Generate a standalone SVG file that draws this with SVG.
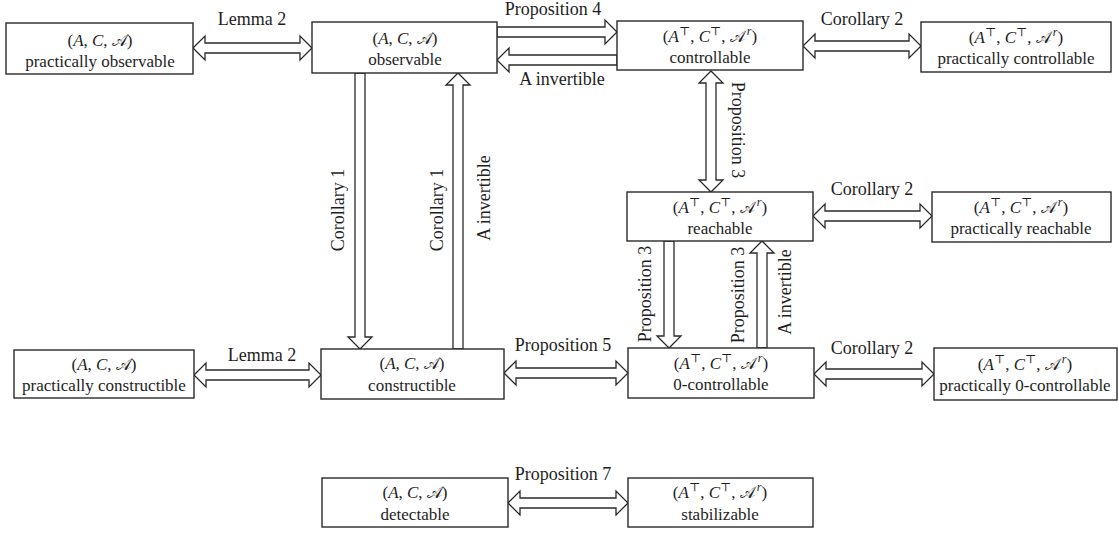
<svg xmlns="http://www.w3.org/2000/svg" width="1119" height="533" viewBox="0 0 1119 533">
<style>
.box{fill:#fff;stroke:#2a2a2a;stroke-width:1.4}
.arr{fill:#fff;stroke:#2a2a2a;stroke-width:1.3;stroke-linejoin:miter}
.t{font-family:"Liberation Serif","DejaVu Serif",serif;font-size:17px;fill:#1e1e1e;text-anchor:middle}
.lbl{font-family:"Liberation Serif","DejaVu Serif",serif;font-size:18px;fill:#1e1e1e;text-anchor:middle;dominant-baseline:central}
.i{font-style:italic}
.cal{font-family:"DejaVu Sans","Noto Sans",sans-serif;font-style:normal;font-size:16px}
.sup{font-size:12px}
</style>
<rect width="1119" height="533" fill="#fff"/>

<g id="connectors">
  <polygon class="arr" points="193,48 205,36 205,43 300,43 300,36 312,48 300,60 300,53 205,53 205,60"/>
  <text class="lbl" x="252" y="19">Lemma 2</text>
  <polygon class="arr" points="497,27 605,27 605,20 617,32 605,44 605,37 497,37"/>
  <text class="lbl" x="553" y="9">Proposition 4</text>
  <polygon class="arr" points="617,55 509,55 509,48 497,60 509,72 509,65 617,65"/>
  <text class="lbl" x="562" y="79">A invertible</text>
  <polygon class="arr" points="803,46 815,34 815,41 909,41 909,34 921,46 909,58 909,51 815,51 815,58"/>
  <text class="lbl" x="862" y="19">Corollary 2</text>
  <polygon class="arr" points="355,73 355,337 348,337 360,349 372,337 365,337 365,73"/>
  <text class="lbl" transform="rotate(-90 338 210)" x="338" y="210">Corollary 1</text>
  <polygon class="arr" points="453,349 453,85 446,85 458,73 470,85 463,85 463,349"/>
  <text class="lbl" transform="rotate(-90 437 210)" x="437" y="210">Corollary 1</text>
  <text class="lbl" transform="rotate(-90 484 198)" x="484" y="198">A invertible</text>
  <polygon class="arr" points="711,71 723,83 716,83 716,180 723,180 711,192 699,180 706,180 706,83 699,83"/>
  <text class="lbl" transform="rotate(90 738 130)" x="738" y="130">Proposition 3</text>
  <polygon class="arr" points="813,216 825,204 825,211 920,211 920,204 932,216 920,228 920,221 825,221 825,228"/>
  <text class="lbl" x="872" y="189">Corollary 2</text>
  <polygon class="arr" points="664,241 664,336 657,336 669,348 681,336 674,336 674,241"/>
  <text class="lbl" transform="rotate(-90 645 294)" x="645" y="294">Proposition 3</text>
  <polygon class="arr" points="757,348 757,253 750,253 762,241 774,253 767,253 767,348"/>
  <text class="lbl" transform="rotate(-90 738 295)" x="738" y="295">Proposition 3</text>
  <text class="lbl" transform="rotate(-90 785 292)" x="785" y="292">A invertible</text>
  <polygon class="arr" points="194,375 206,363 206,370 309,370 309,363 321,375 309,387 309,380 206,380 206,387"/>
  <text class="lbl" x="262" y="355">Lemma 2</text>
  <polygon class="arr" points="504,373 516,361 516,368 616,368 616,361 628,373 616,385 616,378 516,378 516,385"/>
  <text class="lbl" x="563" y="345">Proposition 5</text>
  <polygon class="arr" points="814,374 826,362 826,369 922,369 922,362 934,374 922,386 922,379 826,379 826,386"/>
  <text class="lbl" x="872" y="348">Corollary 2</text>
  <polygon class="arr" points="508,503 520,491 520,498 616,498 616,491 628,503 616,515 616,508 520,508 520,515"/>
  <text class="lbl" x="563" y="474">Proposition 7</text>
</g>

<g id="n1">
  <rect class="box" x="6" y="23" width="187" height="51"/>
  <text class="t" x="100" y="46">(<tspan class="i">A</tspan>, <tspan class="i">C</tspan>, <tspan class="cal">𝒜</tspan>)</text>
  <text class="t" x="100" y="67">practically observable</text>
</g>
<g id="n2">
  <rect class="box" x="312" y="22" width="185" height="51"/>
  <text class="t" x="405" y="44">(<tspan class="i">A</tspan>, <tspan class="i">C</tspan>, <tspan class="cal">𝒜</tspan>)</text>
  <text class="t" x="405" y="65">observable</text>
</g>
<g id="n3">
  <rect class="box" x="617" y="21" width="186" height="49"/>
  <text class="t" x="710" y="42">(<tspan class="i">A</tspan><tspan class="sup" dy="-7">⊤</tspan><tspan dy="7">, </tspan><tspan class="i">C</tspan><tspan class="sup" dy="-7">⊤</tspan><tspan dy="7">, </tspan><tspan class="cal">𝒜</tspan><tspan class="sup i" dx="2" dy="-7">r</tspan><tspan dy="7">)</tspan></text>
  <text class="t" x="710" y="63">controllable</text>
</g>
<g id="n4">
  <rect class="box" x="921" y="22" width="190" height="50"/>
  <text class="t" x="1016" y="43">(<tspan class="i">A</tspan><tspan class="sup" dy="-7">⊤</tspan><tspan dy="7">, </tspan><tspan class="i">C</tspan><tspan class="sup" dy="-7">⊤</tspan><tspan dy="7">, </tspan><tspan class="cal">𝒜</tspan><tspan class="sup i" dx="2" dy="-7">r</tspan><tspan dy="7">)</tspan></text>
  <text class="t" x="1016" y="64">practically controllable</text>
</g>
<g id="n7">
  <rect class="box" x="627" y="192" width="186" height="49"/>
  <text class="t" x="720" y="213">(<tspan class="i">A</tspan><tspan class="sup" dy="-7">⊤</tspan><tspan dy="7">, </tspan><tspan class="i">C</tspan><tspan class="sup" dy="-7">⊤</tspan><tspan dy="7">, </tspan><tspan class="cal">𝒜</tspan><tspan class="sup i" dx="2" dy="-7">r</tspan><tspan dy="7">)</tspan></text>
  <text class="t" x="720" y="234">reachable</text>
</g>
<g id="n8">
  <rect class="box" x="932" y="192" width="179" height="50"/>
  <text class="t" x="1021" y="213">(<tspan class="i">A</tspan><tspan class="sup" dy="-7">⊤</tspan><tspan dy="7">, </tspan><tspan class="i">C</tspan><tspan class="sup" dy="-7">⊤</tspan><tspan dy="7">, </tspan><tspan class="cal">𝒜</tspan><tspan class="sup i" dx="2" dy="-7">r</tspan><tspan dy="7">)</tspan></text>
  <text class="t" x="1021" y="234">practically reachable</text>
</g>
<g id="n9">
  <rect class="box" x="14" y="350" width="180" height="48"/>
  <text class="t" x="104" y="370">(<tspan class="i">A</tspan>, <tspan class="i">C</tspan>, <tspan class="cal">𝒜</tspan>)</text>
  <text class="t" x="104" y="391">practically constructible</text>
</g>
<g id="n5">
  <rect class="box" x="321" y="349" width="183" height="50"/>
  <text class="t" x="412" y="369">(<tspan class="i">A</tspan>, <tspan class="i">C</tspan>, <tspan class="cal">𝒜</tspan>)</text>
  <text class="t" x="412" y="391">constructible</text>
</g>
<g id="n10">
  <rect class="box" x="628" y="348" width="186" height="50"/>
  <text class="t" x="721" y="369">(<tspan class="i">A</tspan><tspan class="sup" dy="-7">⊤</tspan><tspan dy="7">, </tspan><tspan class="i">C</tspan><tspan class="sup" dy="-7">⊤</tspan><tspan dy="7">, </tspan><tspan class="cal">𝒜</tspan><tspan class="sup i" dx="2" dy="-7">r</tspan><tspan dy="7">)</tspan></text>
  <text class="t" x="721" y="390">0-controllable</text>
</g>
<g id="n11">
  <rect class="box" x="934" y="348" width="183" height="52"/>
  <text class="t" x="1025" y="370">(<tspan class="i">A</tspan><tspan class="sup" dy="-7">⊤</tspan><tspan dy="7">, </tspan><tspan class="i">C</tspan><tspan class="sup" dy="-7">⊤</tspan><tspan dy="7">, </tspan><tspan class="cal">𝒜</tspan><tspan class="sup i" dx="2" dy="-7">r</tspan><tspan dy="7">)</tspan></text>
  <text class="t" x="1025" y="391">practically 0-controllable</text>
</g>
<g id="n12">
  <rect class="box" x="322" y="478" width="186" height="49"/>
  <text class="t" x="415" y="498">(<tspan class="i">A</tspan>, <tspan class="i">C</tspan>, <tspan class="cal">𝒜</tspan>)</text>
  <text class="t" x="415" y="520">detectable</text>
</g>
<g id="n13">
  <rect class="box" x="628" y="478" width="185" height="49"/>
  <text class="t" x="720" y="498">(<tspan class="i">A</tspan><tspan class="sup" dy="-7">⊤</tspan><tspan dy="7">, </tspan><tspan class="i">C</tspan><tspan class="sup" dy="-7">⊤</tspan><tspan dy="7">, </tspan><tspan class="cal">𝒜</tspan><tspan class="sup i" dx="2" dy="-7">r</tspan><tspan dy="7">)</tspan></text>
  <text class="t" x="720" y="520">stabilizable</text>
</g>
</svg>
